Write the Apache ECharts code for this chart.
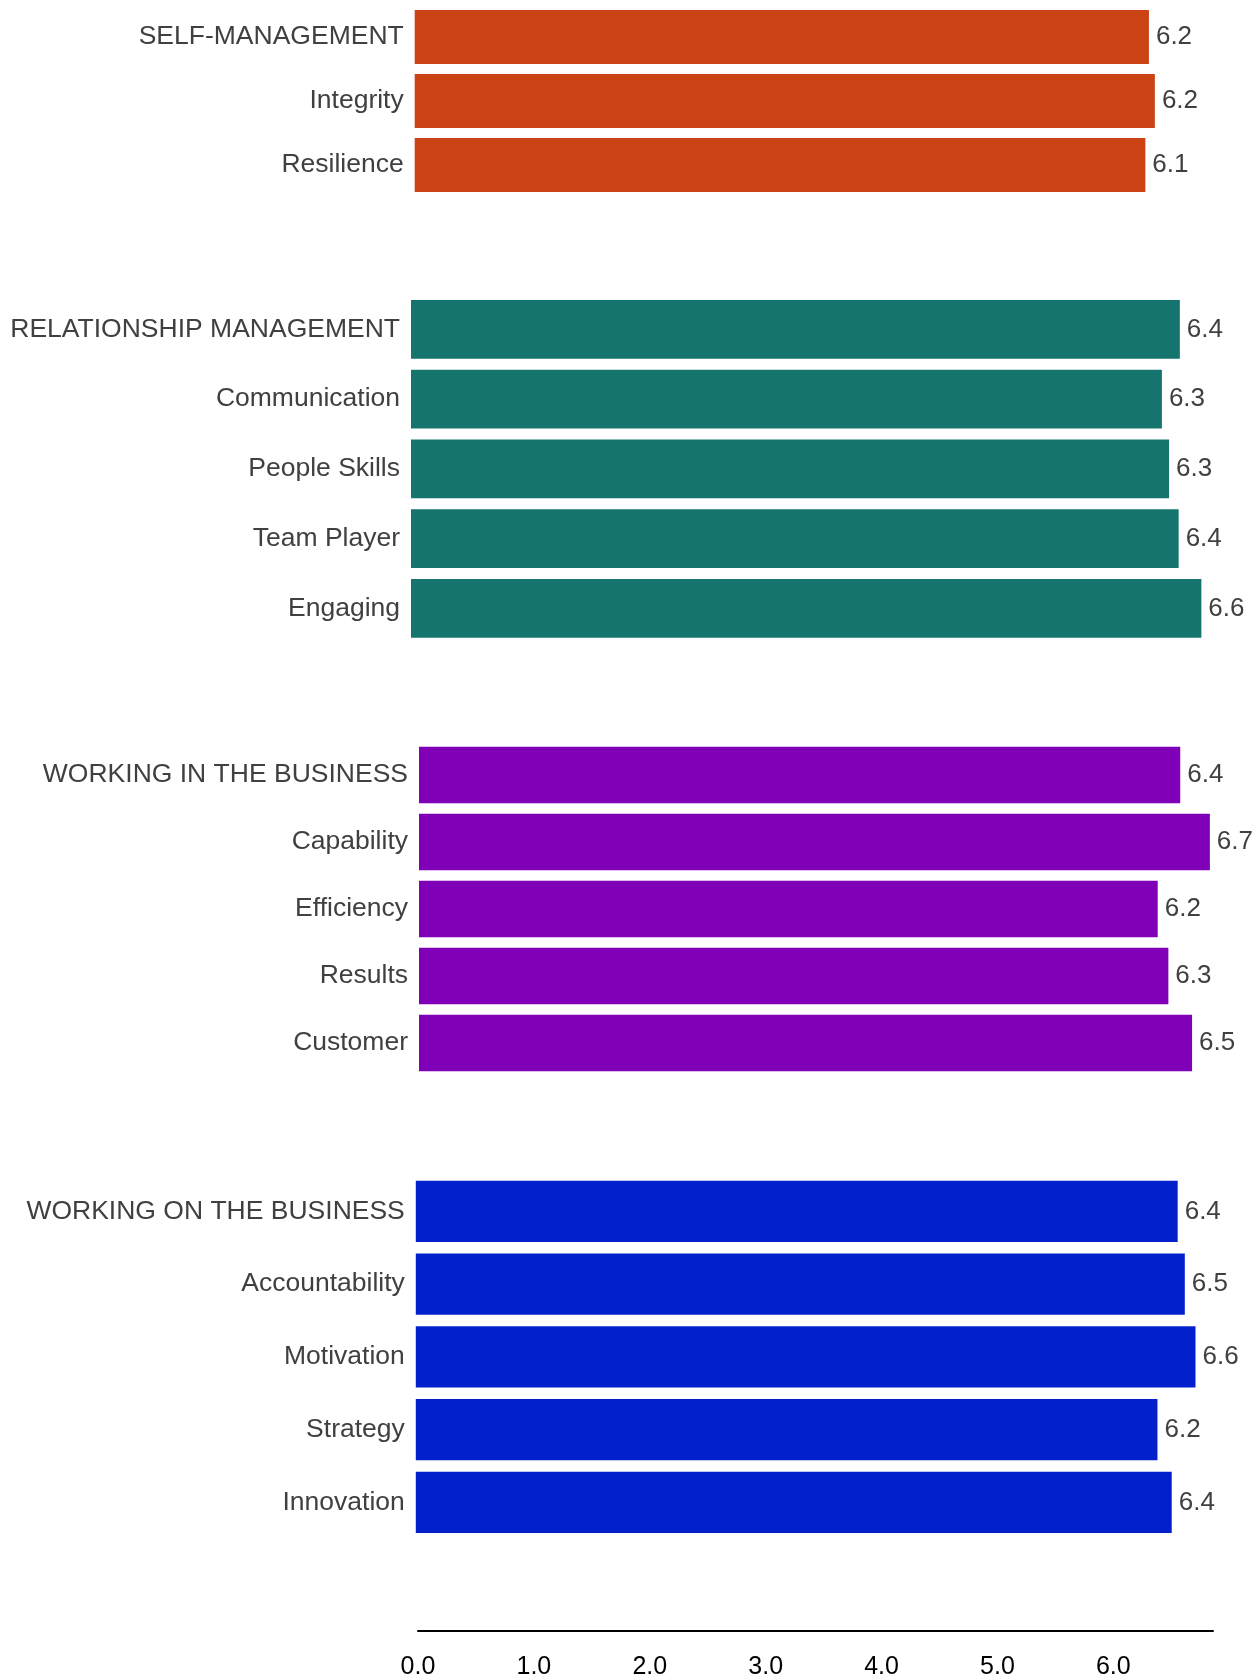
<!DOCTYPE html>
<html>
<head>
<meta charset="utf-8">
<script src="https://cdn.jsdelivr.net/npm/echarts@6/dist/echarts.min.js"></script>
<style>
  html, body { margin: 0; padding: 0; background: #fff; }
  #chart { width: 1259px; height: 1680px; }
</style>
</head>
<body>
<div id="chart"></div>
<script>
// ---- data ----
const selfCategories = ['SELF-MANAGEMENT', 'Integrity', 'Resilience'];
const selfValues = [6.17, 6.22, 6.14];

const relCategories = ['RELATIONSHIP MANAGEMENT', 'Communication', 'People Skills', 'Team Player', 'Engaging'];
const relValues = [6.43, 6.28, 6.34, 6.42, 6.61];

const inCategories = ['WORKING IN THE BUSINESS', 'Capability', 'Efficiency', 'Results', 'Customer'];
const inValues = [6.42, 6.67, 6.23, 6.32, 6.52];

const onCategories = ['WORKING ON THE BUSINESS', 'Accountability', 'Motivation', 'Strategy', 'Innovation'];
const onValues = [6.41, 6.47, 6.56, 6.24, 6.36];

const axisMax = 6.86;
const axisInterval = 1;

// ---- layout / style ----
const groups = [
  { cats: selfCategories, vals: selfValues, color: '#CC4415', left: 414.7, width: 833, top: 5,     height: 192 },
  { cats: relCategories,  vals: relValues,  color: '#16746F', left: 411,   width: 837, top: 294.5, height: 348.75 },
  { cats: inCategories,   vals: inValues,   color: '#8000B7', left: 419,   width: 830, top: 741.5, height: 335 },
  { cats: onCategories,   vals: onValues,   color: '#0220CC', left: 415.8, width: 832, top: 1175,  height: 363.75 }
];

const FONT = '"Liberation Sans", Arial, Helvetica, sans-serif';
const grid = [], xAxis = [], yAxis = [], series = [];

groups.forEach((g, i) => {
  grid.push({ left: g.left, top: g.top, width: g.width, height: g.height, containLabel: false });
  xAxis.push({ gridIndex: i, type: 'value', min: 0, max: 7, show: false });
  yAxis.push({
    gridIndex: i, type: 'category', inverse: true, data: g.cats,
    axisLine: { show: false }, axisTick: { show: false }, splitLine: { show: false },
    axisLabel: { margin: 11, color: '#404040', fontSize: 26.5, fontFamily: FONT, padding: [3, 0, 0, 0] }
  });
  series.push({
    type: 'bar', xAxisIndex: i, yAxisIndex: i, data: g.vals,
    barCategoryGap: '16%',
    itemStyle: { color: g.color },
    label: {
      show: true, position: 'right', distance: 7,
      color: '#404040', fontSize: 26, fontFamily: FONT, padding: [3, 0, 0, 0],
      formatter: p => p.value.toFixed(1)
    }
  });
});

// bottom axis
grid.push({ left: 418, width: 795, top: 1600, height: 36 });
xAxis.push({
  gridIndex: 4, type: 'value', min: 0, max: axisMax, interval: axisInterval,
  position: 'bottom',
  axisLine: { show: true, lineStyle: { color: '#000', width: 2 } },
  axisTick: { show: false }, splitLine: { show: false },
  axisLabel: {
    margin: 24, color: '#000', fontSize: 25, fontFamily: FONT,
    showMaxLabel: false,
    formatter: v => v.toFixed(1)
  }
});
yAxis.push({ gridIndex: 4, type: 'value', show: false, min: 0, max: 1 });

const chart = echarts.init(document.getElementById('chart'), null, { renderer: 'canvas' });
chart.setOption({
  animation: false,
  backgroundColor: '#fff',
  grid, xAxis, yAxis, series
});
</script>
</body>
</html>
